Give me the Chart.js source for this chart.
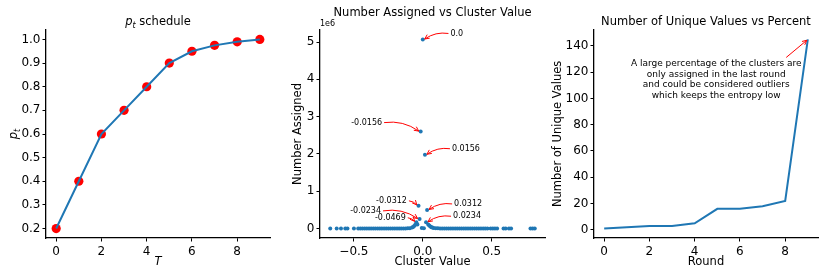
<!DOCTYPE html>
<html>
<head>
<meta charset="utf-8">
<script src="https://cdn.jsdelivr.net/npm/chart.js@4.4.0/dist/chart.umd.min.js"></script>
<style>
  body { margin: 0; background: #fff; }
  #wrap { position: relative; width: 830px; height: 277px; }
  #wrap canvas { position: absolute; left: 0; top: 0; }
</style>
</head>
<body>
<div id="wrap">
  <canvas id="schedule" width="830" height="277"></canvas>
  <canvas id="assigned" width="830" height="277"></canvas>
  <canvas id="unique" width="830" height="277"></canvas>
</div>
<script>
// ---- données ----
const rounds = [0, 1, 2, 3, 4, 5, 6, 7, 8, 9];
const ptValues = [0.2, 0.4, 0.6, 0.7, 0.8, 0.9, 0.95, 0.975, 0.99, 1.0];
const uniqueValues = [1, 2, 3, 3, 5, 16, 16, 18, 22, 145];

const clusterValues = [
  -0.6719, -0.625, -0.5938, -0.5625, -0.5469, -0.5, -0.4688, -0.4531, -0.4375, -0.4219,
  -0.4063, -0.3906, -0.375, -0.3594, -0.3438, -0.3281, -0.3125, -0.2969, -0.2813, -0.2656,
  -0.25, -0.2344, -0.2188, -0.2031, -0.1875, -0.1719, -0.1563, -0.1406, -0.125, -0.1094,
  -0.0938, -0.0781, -0.0703, -0.0625, -0.0547, -0.0469, -0.0391, -0.0312, -0.0234, -0.0156,
  -0.0078, 0.0, 0.0078, 0.0156, 0.0234, 0.0312, 0.0391, 0.0469, 0.0547, 0.0625,
  0.0703, 0.0781, 0.0938, 0.1094, 0.125, 0.1406, 0.1563, 0.1719, 0.1875, 0.2031,
  0.2188, 0.2344, 0.25, 0.2656, 0.2813, 0.2969, 0.3125, 0.3281, 0.3438, 0.3594,
  0.375, 0.3906, 0.4063, 0.4219, 0.4375, 0.4531, 0.4688, 0.4922, 0.5078, 0.5234,
  0.5391, 0.5859, 0.6016, 0.625, 0.6406, 0.7813, 0.7969, 0.8125,
];
const assignedCounts = [
  1000, 1000, 1000, 1000, 1000, 1000, 1000, 1000, 1000, 1000,
  1000, 1000, 1000, 1000, 1000, 1000, 1000, 1000, 1000, 1000,
  1000, 1000, 1000, 1500, 1500, 2000, 2000, 3000, 4000, 6000,
  12000, 28000, 45000, 70000, 100000, 170000, 110000, 610000, 260000, 2600000,
  15000, 5070000, 12000, 1980000, 170000, 500000, 110000, 80000, 55000, 38000,
  26000, 18000, 11000, 7000, 5000, 4000, 3000, 2500, 2000, 2000,
  1500, 1500, 1000, 1000, 1000, 1000, 1000, 1000, 1000, 1000,
  1000, 1000, 1000, 1000, 1000, 1000, 1000, 1000, 1000, 1000,
  1000, 1000, 1000, 1000, 1000, 1000, 1000, 1000,
];
const annotatedLabels = ["0.0", "-0.0156", "0.0156", "-0.0312", "0.0312", "-0.0234", "-0.0469", "0.0234"];

const ptTicks = [0.2, 0.3, 0.4, 0.5, 0.6, 0.7, 0.8, 0.9, 1.0];
const roundTicks = [0, 2, 4, 6, 8];
const clusterTicks = [-0.5, 0, 0.5];
const assignedTicks = [0, 1e6, 2e6, 3e6, 4e6, 5e6];
const uniqueTicks = [0, 20, 40, 60, 80, 100, 120, 140];

const noteLines = [
  "A large percentage of the clusters are",
  "only assigned in the last round",
  "and could be considered outliers",
  "which keeps the entropy low",
];

// ---- style ----
const FONT = "'DejaVu Sans', sans-serif";
const BLUE = "#1f77b4";
const RED = "#ff0000";
Chart.defaults.font.family = FONT;
Chart.defaults.color = "#000";

// marges de 5% comme matplotlib
function limites(valeurs) {
  const min = Math.min(...valeurs);
  const max = Math.max(...valeurs);
  const m = (max - min) * 0.05;
  return { min: min - m, max: max + m };
}

function echelle(pos, valeursTicks, lim, format, taille, titre) {
  const horizontal = pos === "bottom";
  return {
    type: "linear",
    position: pos,
    min: lim.min,
    max: lim.max,
    afterBuildTicks: (s) => {
      s.ticks = valeursTicks.map((v) => ({ value: v }));
    },
    afterFit: (s) => {
      if (horizontal) s.height = taille;
      else s.width = taille;
    },
    grid: { drawOnChartArea: false, drawTicks: true, tickLength: 3.5, tickColor: "#000", tickWidth: 1 },
    border: { display: true, color: "#000", width: 1.3 },
    ticks: {
      color: "#000",
      font: { family: FONT, size: 12 },
      padding: horizontal ? 3 : 2,
      maxRotation: 0,
      autoSkip: false,
      callback: format,
    },
    title: titre || { display: false },
  };
}

// les titres d'axe en bas utilisent padding.bottom, ceux à gauche padding.top
function titreAxe(texte, pad, style) {
  return {
    display: true,
    text: texte,
    color: "#000",
    font: { family: FONT, size: 11.5, style: style || "normal" },
    padding: { top: pad, bottom: pad },
  };
}

function fleche(ctx, x1, y1, x2, y2, courbure) {
  const mx = (x1 + x2) / 2;
  const my = (y1 + y2) / 2;
  let px = y2 - y1;
  let py = -(x2 - x1);
  if (py > 0) { px = -px; py = -py; }
  const cx = mx + courbure * px;
  const cy = my + courbure * py;
  ctx.beginPath();
  ctx.moveTo(x1, y1);
  ctx.quadraticCurveTo(cx, cy, x2, y2);
  ctx.stroke();
  const a = Math.atan2(y2 - cy, x2 - cx);
  const L = 5;
  const W = 0.45;
  ctx.beginPath();
  ctx.moveTo(x2 - L * Math.cos(a - W), y2 - L * Math.sin(a - W));
  ctx.lineTo(x2, y2);
  ctx.lineTo(x2 - L * Math.cos(a + W), y2 - L * Math.sin(a + W));
  ctx.stroke();
}

const base = {
  responsive: false,
  animation: false,
  events: [],
};

// ---- 1 : p_t schedule ----
const texteMath = {
  id: "texteMath",
  afterDraw(chart) {
    const { ctx, chartArea } = chart;
    ctx.save();
    ctx.fillStyle = "#000";
    ctx.textBaseline = "alphabetic";
    ctx.textAlign = "left";

    const grand = "italic 11.5px " + FONT;
    const petit = "italic 8px " + FONT;
    const normal = "11.5px " + FONT;

    // titre
    ctx.font = grand;
    const wp = ctx.measureText("p").width;
    ctx.font = petit;
    const wt = ctx.measureText("t").width;
    ctx.font = normal;
    const ws = ctx.measureText(" schedule").width;
    let x = (chartArea.left + chartArea.right) / 2 - (wp + wt + ws) / 2;
    const y = 25;
    ctx.font = grand; ctx.fillText("p", x, y); x += wp;
    ctx.font = petit; ctx.fillText("t", x, y + 2.5); x += wt;
    ctx.font = normal; ctx.fillText(" schedule", x, y);

    // label y
    ctx.translate(17, (chartArea.top + chartArea.bottom) / 2);
    ctx.rotate(-Math.PI / 2);
    x = -(wp + wt) / 2;
    ctx.font = grand; ctx.fillText("p", x, 0);
    ctx.font = petit; ctx.fillText("t", x + wp, 2.5);
    ctx.restore();
  },
};

new Chart(document.getElementById("schedule"), {
  type: "line",
  data: {
    datasets: [
      {
        data: rounds.map((r, i) => ({ x: r, y: ptValues[i] })),
        borderColor: BLUE,
        borderWidth: 2,
        pointRadius: 0,
        tension: 0,
        order: 0,
      },
      {
        type: "scatter",
        data: rounds.map((r, i) => ({ x: r, y: ptValues[i] })),
        backgroundColor: RED,
        borderWidth: 0,
        pointRadius: 4.6,
        order: 1,
      },
    ],
  },
  options: {
    ...base,
    layout: { padding: { left: 0, right: 560, top: 30, bottom: 0 } },
    plugins: { legend: { display: false }, tooltip: { enabled: false } },
    scales: {
      x: echelle("bottom", roundTicks, limites(rounds), (v) => String(v), 39, titreAxe("T", 8, "italic")),
      y: echelle("left", ptTicks, limites(ptValues), (v) => v.toFixed(1), 46),
    },
  },
  plugins: [texteMath],
});

// ---- 2 : Number Assigned vs Cluster Value ----
const annotations = {
  id: "annotations",
  afterDatasetsDraw(chart, args, opts) {
    const { ctx, chartArea, scales } = chart;
    ctx.save();
    ctx.fillStyle = "#000";
    ctx.font = "8px " + FONT;
    ctx.textAlign = "left";
    ctx.textBaseline = "middle";
    ctx.fillText("1e6", chartArea.left, 24);

    ctx.strokeStyle = RED;
    ctx.lineWidth = 1;
    annotatedLabels.forEach((lab, i) => {
      const v = parseFloat(lab);
      const k = clusterValues.findIndex((c) => Math.abs(c - v) < 1e-4);
      const px = scales.x.getPixelForValue(clusterValues[k]);
      const py = scales.y.getPixelForValue(assignedCounts[k]);
      const [dx, dy] = opts.offsets[i];
      const tx = px + dx;
      const ty = py + dy;
      ctx.textAlign = "center";
      ctx.fillText(lab, tx, ty);
      const w = ctx.measureText(lab).width;
      const sx = dx > 0 ? tx - w / 2 - 2 : tx + w / 2 + 2;
      const ang = Math.atan2(py - ty, px - sx);
      fleche(ctx, sx, ty, px - 2 * Math.cos(ang), py - 2 * Math.sin(ang), 0.2);
    });
    ctx.restore();
  },
};

new Chart(document.getElementById("assigned"), {
  type: "scatter",
  data: {
    datasets: [
      {
        data: clusterValues.map((c, i) => ({ x: c, y: assignedCounts[i] })),
        backgroundColor: BLUE,
        borderWidth: 0,
        pointRadius: 2,
      },
    ],
  },
  options: {
    ...base,
    layout: { padding: { left: 284, right: 285, top: 0, bottom: 0 } },
    plugins: {
      legend: { display: false },
      tooltip: { enabled: false },
      title: {
        display: true,
        text: "Number Assigned vs Cluster Value",
        color: "#000",
        fullSize: false,
        font: { family: FONT, size: 11.5, weight: "normal" },
        padding: { top: 6.4, bottom: 9.8 },
      },
      annotations: {
        offsets: [[34, -6], [-54, -9], [41, -6], [-27, -5], [41, -6], [-54, -8], [-26, -4.5], [41, -6]],
      },
    },
    scales: {
      x: echelle("bottom", clusterTicks, limites(clusterValues),
        (v) => (v < 0 ? "\u2212" : "") + Math.abs(v).toFixed(1), 39, titreAxe("Cluster Value", 8)),
      y: echelle("left", assignedTicks, limites(assignedCounts),
        (v) => String(Math.round(v / 1e6)), 36, titreAxe("Number Assigned", 7)),
    },
  },
  plugins: [annotations],
});

// ---- 3 : Number of Unique Values vs Percent ----
const note = {
  id: "note",
  afterDatasetsDraw(chart) {
    const { ctx, scales } = chart;
    const n = rounds.length - 1;
    const px = scales.x.getPixelForValue(rounds[n]);
    const py = scales.y.getPixelForValue(uniqueValues[n]);
    ctx.save();
    ctx.fillStyle = "#000";
    ctx.font = "9px " + FONT;
    ctx.textAlign = "center";
    ctx.textBaseline = "middle";
    noteLines.forEach((l, i) => ctx.fillText(l, px - 91.6, py + 24.5 + i * 10.6));
    ctx.strokeStyle = RED;
    ctx.lineWidth = 1;
    fleche(ctx, px - 21.6, py + 18.2, px - 1, py + 1, 0);
    ctx.restore();
  },
};

new Chart(document.getElementById("unique"), {
  type: "line",
  data: {
    datasets: [
      {
        data: rounds.map((r, i) => ({ x: r, y: uniqueValues[i] })),
        borderColor: BLUE,
        borderWidth: 2,
        pointRadius: 0,
        tension: 0,
      },
    ],
  },
  options: {
    ...base,
    layout: { padding: { left: 548, right: 12, top: 0, bottom: 0 } },
    plugins: {
      legend: { display: false },
      tooltip: { enabled: false },
      title: {
        display: true,
        text: "Number of Unique Values vs Percent",
        color: "#000",
        fullSize: false,
        font: { family: FONT, size: 11.5, weight: "normal" },
        padding: { top: 15, bottom: 1 },
      },
    },
    scales: {
      x: echelle("bottom", roundTicks, limites(rounds), (v) => String(v), 39, titreAxe("Round", 8)),
      y: echelle("left", uniqueTicks, limites(uniqueValues), (v) => String(v), 46, titreAxe("Number of Unique Values", 3)),
    },
  },
  plugins: [note],
});
</script>
</body>
</html>
